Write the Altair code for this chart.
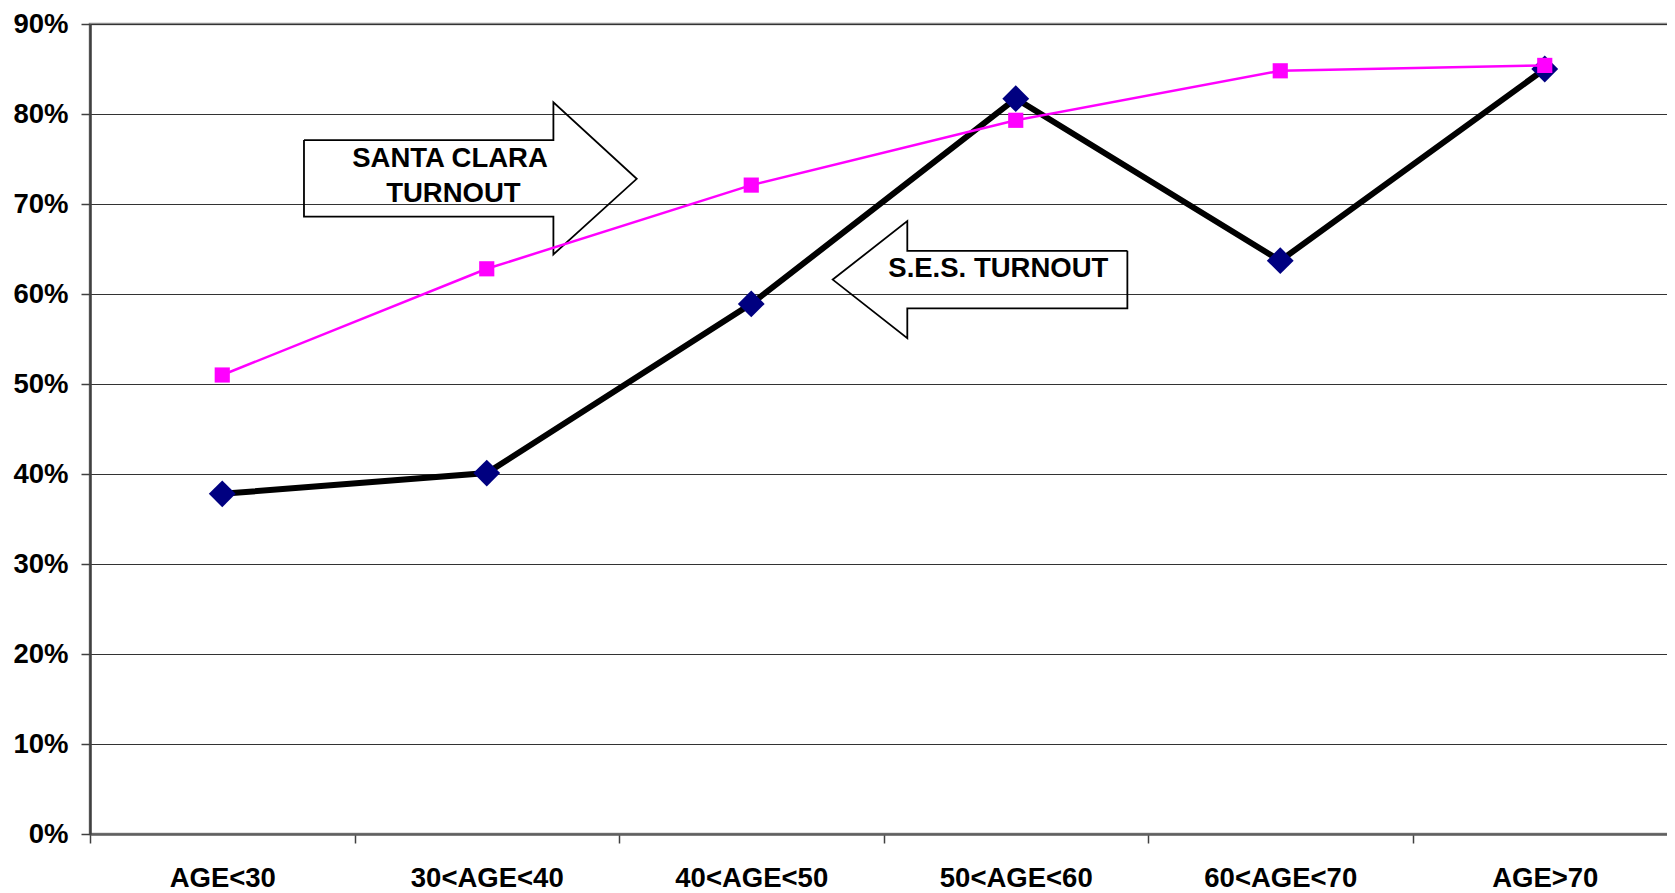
import altair as alt
import pandas as pd

# ---------------- data ----------------
categories = ["AGE<30", "30<AGE<40", "40<AGE<50", "50<AGE<60", "60<AGE<70", "AGE>70"]
ses_turnout = [0.378, 0.401, 0.589, 0.817, 0.637, 0.850]
santa_clara_turnout = [0.510, 0.628, 0.721, 0.793, 0.848, 0.854]
y_ticks = [0.0, 0.1, 0.2, 0.3, 0.4, 0.5, 0.6, 0.7, 0.8, 0.9]

# call-out arrows, in band units (category i spans i..i+1) and turnout share
arrow_names = ["santa_clara", "ses"]
arrow_tail = [0.809, 3.922]
arrow_neck = [1.752, 3.090]
arrow_tip = [2.067, 2.808]
arrow_tip_y = [0.728, 0.616]
arrow_body_lo = [0.686, 0.584]
arrow_body_hi = [0.771, 0.648]
arrow_head_lo = [0.644, 0.551]
arrow_head_hi = [0.813, 0.681]

label_text = ["SANTA CLARA", "TURNOUT", "S.E.S. TURNOUT"]
label_x = [1.361, 1.374, 3.434]
label_y = [0.750, 0.711, 0.628]

FONT = "Liberation Sans"
FS = 27.5

# ---------------- tables built from the arrays ----------------
lines_df = pd.DataFrame({
    "category": categories * 2,
    "value": ses_turnout + santa_clara_turnout,
    "series": ["ses"] * len(categories) + ["sc"] * len(categories),
})

fill_rows, edge_rows = [], []
for k, name in enumerate(arrow_names):
    t, n, p = arrow_tail[k], arrow_neck[k], arrow_tip[k]
    ty, blo, bhi = arrow_tip_y[k], arrow_body_lo[k], arrow_body_hi[k]
    hlo, hhi = arrow_head_lo[k], arrow_head_hi[k]
    for i, (x, lo, hi) in enumerate([(t, blo, bhi), (n, blo, bhi), (n, hlo, hhi), (p, ty, ty)]):
        fill_rows.append({"arrow": name, "i": i, "x": x, "lo": lo, "hi": hi})
    pts = [(t, bhi), (n, bhi), (n, hhi), (p, ty), (n, hlo), (n, blo), (t, blo), (t, bhi)]
    for i, (x, y) in enumerate(pts):
        edge_rows.append({"arrow": name, "i": i, "x": x, "y": y})
fill_df = pd.DataFrame(fill_rows)
edge_df = pd.DataFrame(edge_rows)
label_df = pd.DataFrame({"text": label_text, "x": label_x, "y": label_y})

# ---------------- scales & axes ----------------
y_scale = alt.Scale(domain=[0, 0.9], nice=False, zero=True)
y_axis = alt.Axis(values=y_ticks, format=".0%", title=None,
                  labelFont=FONT, labelFontSize=FS, labelFontWeight="bold",
                  labelColor="black", labelPadding=13,
                  tickSize=9, tickColor="#404040", tickWidth=1.5,
                  domainColor="#404040", domainWidth=2.5,
                  grid=True, gridColor="#333333", gridWidth=1.2)
x_axis = alt.Axis(orient="bottom", title=None, tickBand="extent", labelAngle=0,
                  labelFont=FONT, labelFontSize=FS, labelFontWeight="bold",
                  labelColor="black", labelPadding=21,
                  tickSize=9, tickColor="#404040", tickWidth=1.5,
                  domainColor="#606060", domainWidth=2.5, grid=False)

xq_scale = alt.Scale(domain=[0, 6], nice=False, zero=False)

# ---------------- annotation layers ----------------
arrow_fill = alt.Chart(fill_df).mark_area(color="white", opacity=1).encode(
    x=alt.X("x:Q", scale=xq_scale, axis=None),
    y=alt.Y("lo:Q", scale=y_scale, axis=y_axis),
    y2="hi:Q",
    detail="arrow:N",
    order="i:Q",
)
arrow_edge = alt.Chart(edge_df).mark_line(color="black", strokeWidth=1.8, strokeJoin="miter").encode(
    x=alt.X("x:Q", scale=xq_scale, axis=None),
    y=alt.Y("y:Q", scale=y_scale, axis=y_axis),
    detail="arrow:N",
    order="i:Q",
)
arrow_text = alt.Chart(label_df).mark_text(
    font=FONT, fontSize=FS, fontWeight="bold", color="black",
    align="center", baseline="middle",
).encode(
    x=alt.X("x:Q", scale=xq_scale, axis=None),
    y=alt.Y("y:Q", scale=y_scale, axis=y_axis),
    text="text:N",
)
annotations = alt.layer(arrow_fill, arrow_edge, arrow_text)

# ---------------- series layers ----------------
x_band = alt.X("category:N", sort=categories, bandPosition=0.5,
               scale=alt.Scale(type="band", paddingInner=0, paddingOuter=0),
               axis=x_axis)
y_val = alt.Y("value:Q", scale=y_scale, axis=y_axis)

base = alt.Chart(lines_df)
ses = base.transform_filter(alt.datum.series == "ses")
sc = base.transform_filter(alt.datum.series == "sc")

ses_line = ses.mark_line(color="black", strokeWidth=6, strokeJoin="miter").encode(x=x_band, y=y_val)
ses_pts = ses.mark_point(shape="diamond", filled=True, size=720, color="#000080", opacity=1).encode(x=x_band, y=y_val)
sc_line = sc.mark_line(color="#FF00FF", strokeWidth=2.5).encode(x=x_band, y=y_val)
sc_pts = sc.mark_point(shape="square", filled=True, size=230, color="#FF00FF", opacity=1).encode(x=x_band, y=y_val)

series = alt.layer(ses_line, ses_pts, sc_line, sc_pts)

chart = alt.layer(annotations, series).resolve_scale(x="independent").properties(
    width=1587, height=810,
    padding={"left": 82, "top": 16, "right": -10, "bottom": 58},
    autosize=alt.AutoSizeParams(type="none"),
    background="white",
).configure_view(stroke="#8c8c8c", strokeWidth=2.5)

chart.save("out.html", embed_options={"renderer": "svg", "actions": False})
